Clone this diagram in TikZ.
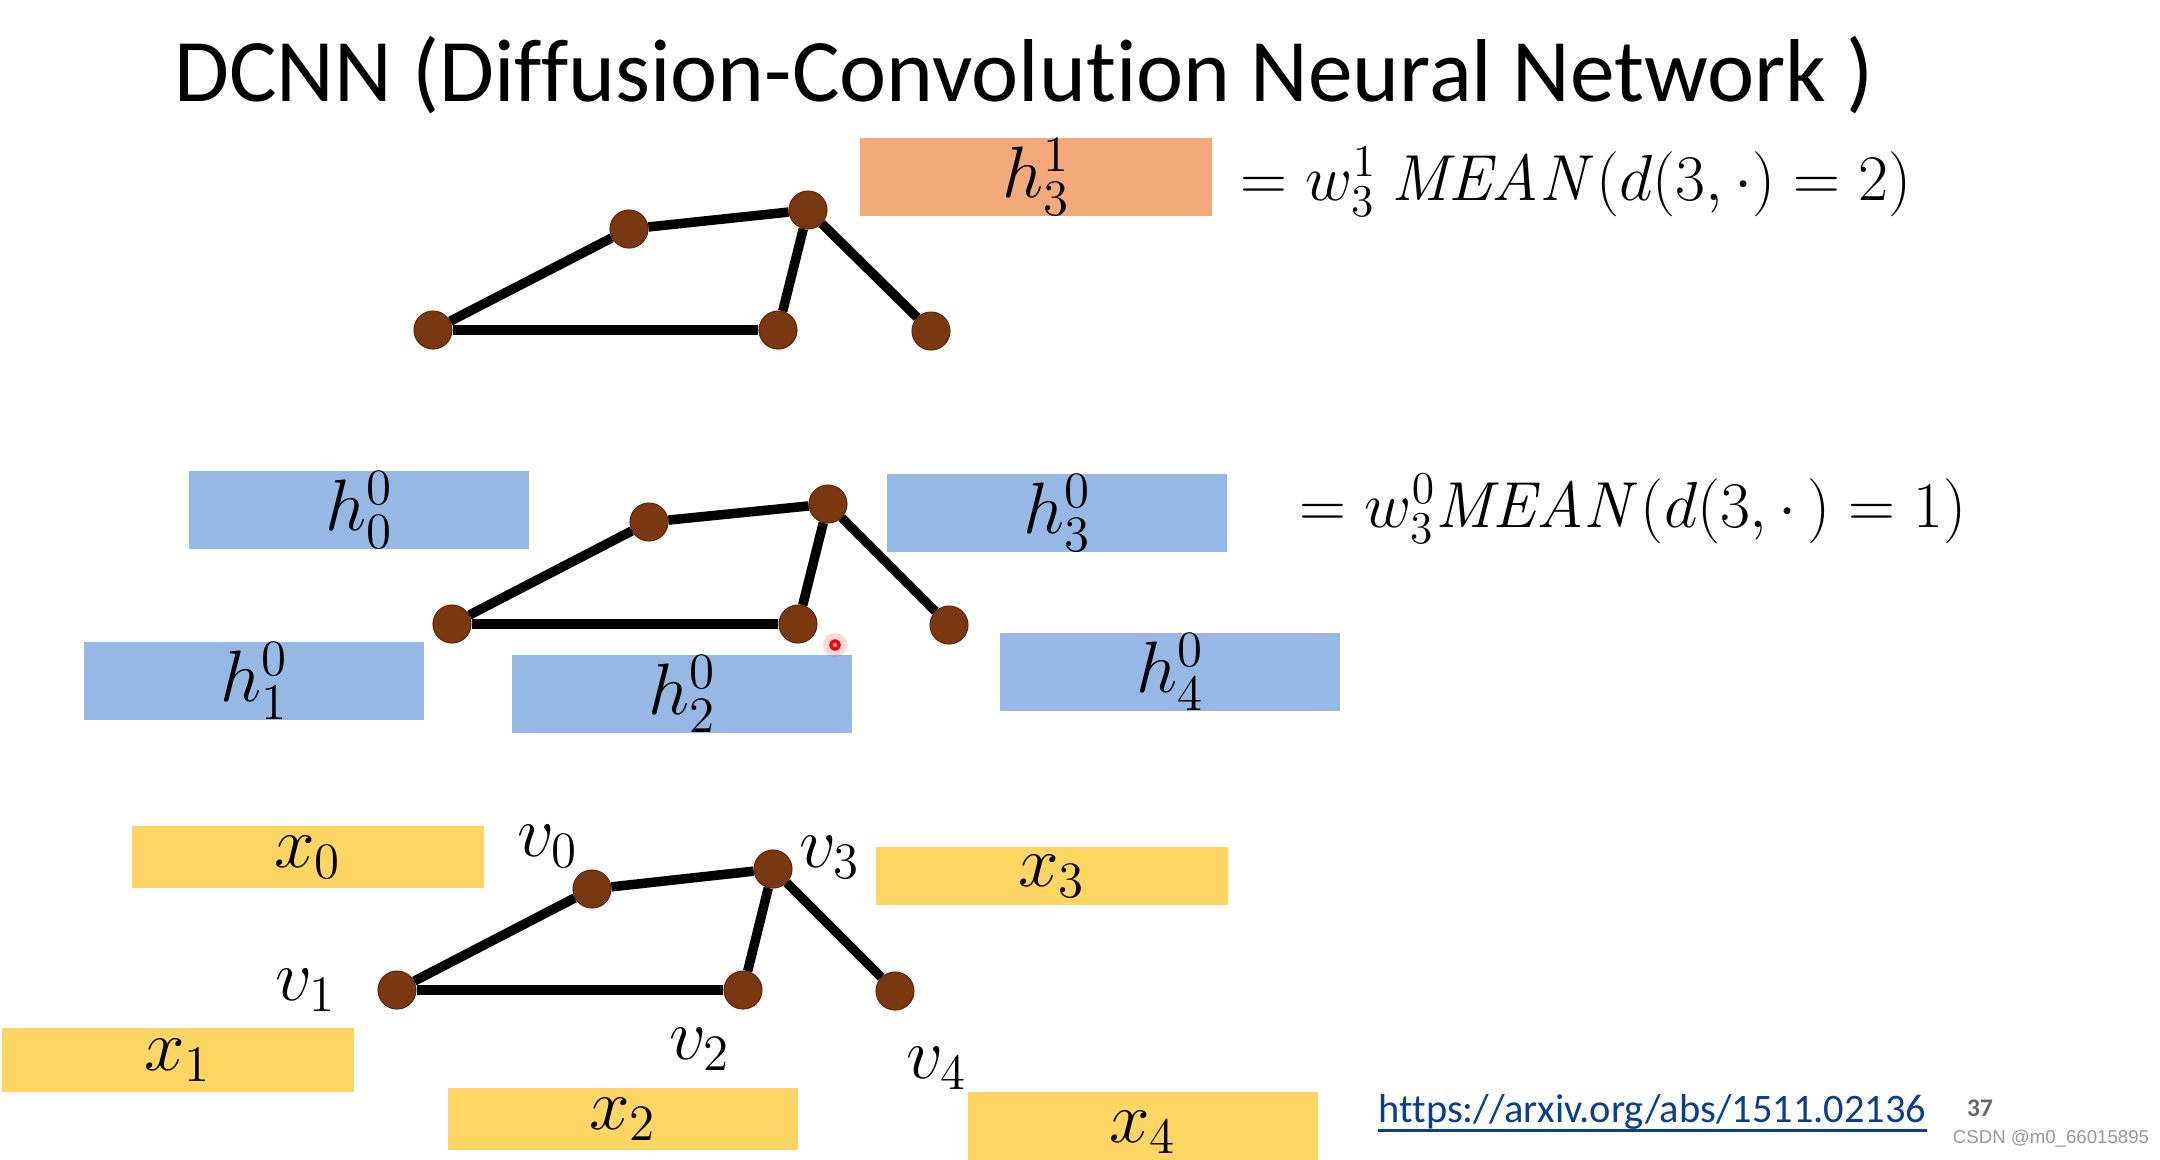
\RequirePackage{fix-cm}
\documentclass[tikz,border=0pt]{standalone}
\usepackage[no-math]{fontspec}
\usepackage{amsmath}
\setmainfont[RawFeature=-liga]{Carlito}
\newfontfamily\csdnfont{Liberation Sans}
\usetikzlibrary{positioning}
\definecolor{nodebrown}{RGB}{122,56,16}
\definecolor{nodeedge}{RGB}{95,40,10}
\definecolor{hblue}{RGB}{149,184,228}
\definecolor{horange}{RGB}{244,169,122}
\definecolor{xyellow}{RGB}{255,214,100}
\definecolor{urlblue}{RGB}{12,62,140}
\newcommand{\lblfont}{\fontsize{20.7pt}{24pt}\selectfont}
\newcommand{\eqfont}{\fontsize{18.5pt}{22pt}\selectfont}

\begin{document}
\begin{tikzpicture}[x=0.01cm, y=-0.01cm,
    vtx/.style={circle, fill=nodebrown, draw=nodeedge, line width=0.3pt, minimum size=0.38cm, inner sep=0pt},
    edge/.style={line width=0.095cm, black},
    hbox/.style={rectangle, fill=hblue, minimum width=3.4cm, minimum height=0.72cm, inner sep=0pt, font=\lblfont},
    xbox/.style={rectangle, fill=xyellow, minimum width=3.52cm, minimum height=0.62cm, inner sep=0pt, font=\lblfont},
    vlabel/.style={inner sep=0pt, font=\lblfont}]
    \clip (0,0) rectangle (2160,1159);
    \fill[white] (0,0) rectangle (2160,1159);

    % Title
    \node[anchor=base, font=\fontsize{25.4pt}{30pt}\selectfont] (title) at (1024,101) {DCNN (Diffusion-Convolution Neural Network )};

    % Layer 1: top graph
    \node[rectangle, fill=horange, minimum width=3.52cm, minimum height=0.78cm, inner sep=0pt, font=\lblfont] (h31) at (1036,177) {$h_3^1$};
    \node[anchor=base west, inner sep=0pt, font=\eqfont] (eqtop) at (1240,200) {$= w_3^1\ \mathit{MEAN}(d(3,\cdot) = 2)$};
    \node[vtx] (t0) at (629,229) {};
    \node[vtx] (t1) at (433,330) {};
    \node[vtx] (t2) at (778,330) {};
    \node[vtx] (t3) at (808,210) {};
    \node[vtx] (t4) at (931,331) {};
    \draw[edge] (t1) -- (t0);
    \draw[edge] (t0) -- (t3);
    \draw[edge] (t3) -- (t2);
    \draw[edge] (t3) -- (t4);
    \draw[edge] (t1) -- (t2);

    % Layer 0: middle graph
    \node[hbox] (h00) at (359,510) {$h_0^0$};
    \node[hbox] (h30) at (1057,513) {$h_3^0$};
    \node[hbox] (h10) at (254,681) {$h_1^0$};
    \node[hbox] (h20) at (682,694) {$h_2^0$};
    \node[hbox] (h40) at (1170,672) {$h_4^0$};
    \node[anchor=base west, inner sep=0pt, font=\eqfont] (eqmid) at (1299,527) {$= w_3^0\mathit{MEAN}(d(3,\cdot\,) = 1)$};
    \node[vtx] (m0) at (649,522) {};
    \node[vtx] (m1) at (452,624) {};
    \node[vtx] (m2) at (798,624) {};
    \node[vtx] (m3) at (828,504) {};
    \node[vtx] (m4) at (949,625) {};
    \draw[edge] (m1) -- (m0);
    \draw[edge] (m0) -- (m3);
    \draw[edge] (m3) -- (m2);
    \draw[edge] (m3) -- (m4);
    \draw[edge] (m1) -- (m2);

    % pointer mark
    \fill[red, opacity=0.15] (835,645) circle (0.12cm);
    \draw[red, line width=1pt] (835,645) circle (0.04cm);

    % Input: bottom graph
    \node[xbox] (x0) at (308,857) {$x_0$};
    \node[xbox, minimum height=0.58cm] (x3) at (1052,876) {$x_3$};
    \node[xbox, minimum height=0.64cm] (x1) at (178,1060) {$x_1$};
    \node[xbox, minimum width=3.5cm] (x2) at (623,1119) {$x_2$};
    \node[xbox, minimum width=3.5cm, minimum height=0.8cm] (x4) at (1143,1132) {$x_4$};
    \node[vtx] (b0) at (592,889) {};
    \node[vtx] (b1) at (397,990) {};
    \node[vtx] (b2) at (743,990) {};
    \node[vtx] (b3) at (773,869) {};
    \node[vtx] (b4) at (895,991) {};
    \draw[edge] (b1) -- (b0);
    \draw[edge] (b0) -- (b3);
    \draw[edge] (b3) -- (b2);
    \draw[edge] (b3) -- (b4);
    \draw[edge] (b1) -- (b2);
    \node[vlabel] (lv0) at (548,846) {$v_0$};
    \node[vlabel] (lv1) at (306,990) {$v_1$};
    \node[vlabel] (lv2) at (700,1049) {$v_2$};
    \node[vlabel] (lv3) at (830,857) {$v_3$};
    \node[vlabel] (lv4) at (937,1068) {$v_4$};

    % Footer
    \node[anchor=base west, inner sep=0pt, text=urlblue, font=\fontsize{11.5pt}{14pt}\selectfont] (url) at (1378,1122) {https://arxiv.org/abs/1511.02136};
    \draw[urlblue, line width=0.9pt] ([yshift=-2.4pt]url.base west) -- ([yshift=-2.4pt]url.base east);
    \node[text=black!60, inner sep=0pt, font=\fontsize{7.2pt}{8pt}\selectfont\bfseries] (page) at (1980,1108) {37};
    \node[text=black!40, inner sep=0pt, font=\fontsize{5.3pt}{6pt}\selectfont\csdnfont] (csdn) at (2051,1139) {CSDN @m0\_66015895};
\end{tikzpicture}
\end{document}
